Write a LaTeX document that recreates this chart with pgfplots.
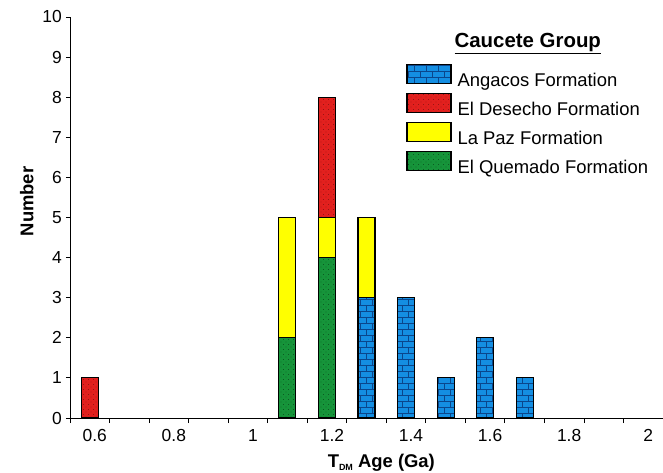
\documentclass[border=0pt]{standalone}
\usepackage{fontspec}
\setmainfont{Liberation Sans}
\usepackage{pgfplots}
\pgfplotsset{compat=1.18}
\usetikzlibrary{patterns}
\definecolor{cblue}{RGB}{20,142,226}
\definecolor{cred}{RGB}{226,32,30}
\definecolor{cyellow}{RGB}{255,255,0}
\definecolor{cgreen}{RGB}{22,148,58}
\definecolor{pblue}{RGB}{10,70,140}
\definecolor{pred}{RGB}{110,15,15}
\definecolor{pgreen}{RGB}{8,60,20}
\pgfdeclarepatternformonly{cbricks}{\pgfpoint{-1bp}{-1bp}}{\pgfpoint{13bp}{13bp}}{\pgfpoint{12bp}{12bp}}{%
  \pgfsetlinewidth{0.45bp}%
  \pgfpathmoveto{\pgfpoint{0bp}{0bp}}\pgfpathlineto{\pgfpoint{12bp}{0bp}}%
  \pgfpathmoveto{\pgfpoint{0bp}{6bp}}\pgfpathlineto{\pgfpoint{12bp}{6bp}}%
  \pgfpathmoveto{\pgfpoint{0bp}{0bp}}\pgfpathlineto{\pgfpoint{0bp}{6bp}}%
  \pgfpathmoveto{\pgfpoint{6bp}{6bp}}\pgfpathlineto{\pgfpoint{6bp}{12bp}}%
  \pgfusepath{stroke}}
\pgfdeclarepatternformonly{cdots}{\pgfpoint{-1bp}{-1bp}}{\pgfpoint{6bp}{6bp}}{\pgfpoint{5bp}{5bp}}{%
  \pgfpathcircle{\pgfpoint{1bp}{1bp}}{0.45bp}%
  \pgfpathcircle{\pgfpoint{3.5bp}{3.5bp}}{0.45bp}%
  \pgfusepath{fill}}
\pgfplotstableread{
x    blue green yellow red
0.6  0    0     0      1
1.1  0    2     3      0
1.2  0    4     1      3
1.3  3    0     2      0
1.4  3    0     0      0
1.5  1    0     0      0
1.6  2    0     0      0
1.7  1    0     0      0
}\datatab
\tikzset{
  sblue/.style={fill=cblue, draw=black, line width=1.1bp, postaction={pattern=cbricks, pattern color=pblue}},
  sred/.style={fill=cred, draw=black, line width=1.1bp, postaction={pattern=cdots, pattern color=pred}},
  syellow/.style={fill=cyellow, draw=black, line width=1.1bp},
  sgreen/.style={fill=cgreen, draw=black, line width=1.1bp, postaction={pattern=cdots, pattern color=pgreen}},
}
\begin{document}
\begin{tikzpicture}
\begin{axis}[
  scale only axis,
  width=593bp, height=401bp,
  xmin=0.55, xmax=2.05, ymin=0, ymax=10,
  axis lines*=left,
  axis line style={black, line width=0.9bp},
  tick align=outside,
  xtick={0.6,0.8,1.0,1.2,1.4,1.6,1.8,2.0},
  xticklabels={0.6,0.8,1,1.2,1.4,1.6,1.8,2},
  minor xtick={0.55,0.65,0.75,0.85,0.95,1.05,1.15,1.25,1.35,1.45,1.55,1.65,1.75,1.85,1.95,2.05},
  major x tick style={draw=none},
  minor x tick style={black, line width=0.8bp},
  minor tick length=5bp,
  ytick={0,1,...,10},
  major y tick style={black, line width=0.8bp},
  major tick length=4bp,
  /pgf/number format/assume math mode=true,
  ticklabel style={font=\fontsize{17.5}{18}\selectfont},
  xticklabel style={anchor=north, inner sep=0pt, yshift=-7bp, xshift=5bp},
  yticklabel style={anchor=east, inner sep=0pt, xshift=-4bp},
  ylabel={\bfseries Number},
  ylabel style={at={(axis description cs:-0.073,0.54)}, anchor=center, font=\fontsize{18.5}{20}\selectfont},
  xlabel={\bfseries T\raisebox{-2.5bp}{\fontsize{9}{9}\selectfont DM} Age (Ga)},
  xlabel style={at={(axis description cs:0.525,-0.112)}, anchor=center, font=\fontsize{18.5}{20}\selectfont},
  ybar stacked,
  bar width=17bp,
  legend style={at={(rel axis cs:0.567,0.883)}, anchor=north west, draw=none, fill=none,
    inner sep=0pt, row sep=2.5bp, column sep=6bp,
    font=\fontsize{18.5}{20}\selectfont,
    nodes={inner sep=0pt, text height=13bp, text depth=4bp}},
  legend cell align=left,
  legend image code/.code={\draw[#1] (0bp,-1.5bp) rectangle (44bp,17.5bp);},
]
\addplot[sblue, forget plot] table[x=x, y=blue] {\datatab};
\addplot[sgreen, forget plot] table[x=x, y=green] {\datatab};
\addplot[syellow, forget plot] table[x=x, y=yellow] {\datatab};
\addplot[sred, forget plot] table[x=x, y=red] {\datatab};
\addlegendimage{sblue}
\addlegendentry{Angacos Formation}
\addlegendimage{sred}
\addlegendentry{El Desecho Formation}
\addlegendimage{syellow}
\addlegendentry{La Paz Formation}
\addlegendimage{sgreen}
\addlegendentry{El Quemado Formation}
\node[anchor=base, font=\bfseries\fontsize{20.5}{22}\selectfont] at (rel axis cs:0.772,0.925) {\underline{Caucete Group}};
\end{axis}
\pgfresetboundingbox
\useasboundingbox (-70bp,-55bp) rectangle (593bp,418bp);
\end{tikzpicture}
\end{document}
